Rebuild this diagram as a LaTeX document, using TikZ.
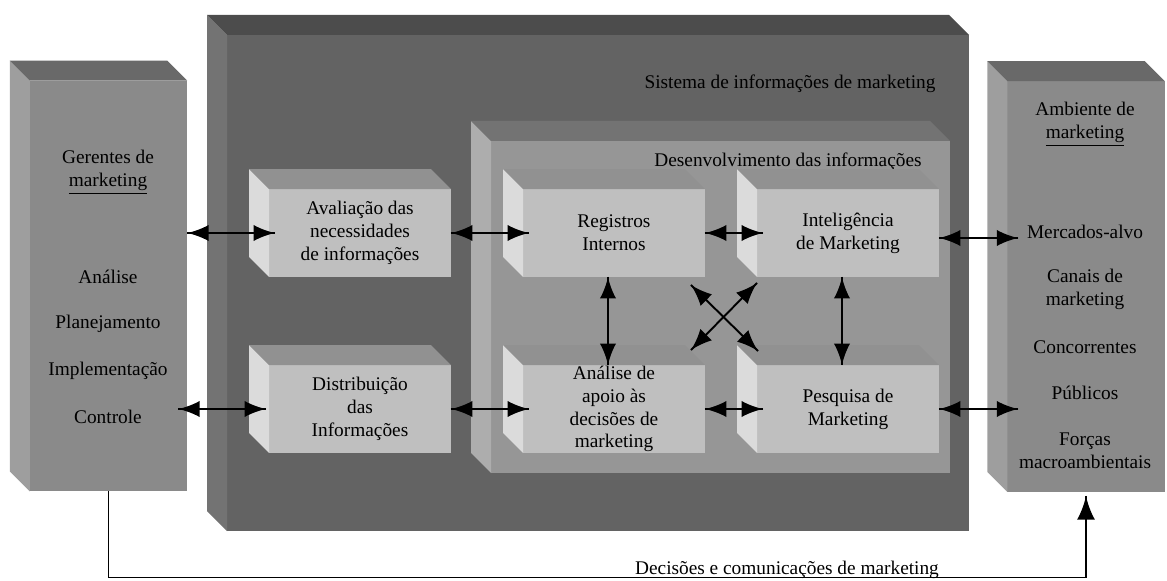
\documentclass[tikz,border=0pt]{standalone}
\usepackage{fontspec}
\setmainfont{Liberation Serif}
\usepackage{tikz}
\usetikzlibrary{arrows}
\usetikzlibrary{decorations.markings}
\usetikzlibrary{positioning}
\definecolor{darkfront}{gray}{0.39}
\definecolor{darktop}{gray}{0.30}
\definecolor{darkside}{gray}{0.45}
\definecolor{outerfront}{gray}{0.54}
\definecolor{outertop}{gray}{0.41}
\definecolor{outerside}{gray}{0.62}
\definecolor{innerfront}{gray}{0.59}
\definecolor{innertop}{gray}{0.45}
\definecolor{innerside}{gray}{0.68}
\definecolor{smallfront}{gray}{0.75}
\definecolor{smalltop}{gray}{0.57}
\definecolor{smallside}{gray}{0.86}
\tikzset{outerbox/.style = {fill = outerfront, minimum width = 3.15cm, minimum height = 8.22cm,
                            inner sep = 0, outer sep = 0}}
\tikzset{smallbox/.style = {fill = smallfront, minimum width = 3.64cm, minimum height = 1.76cm,
                            inner sep = 0, outer sep = 0, align = center}}
\tikzset{txt/.style = {inner sep = 0, align = center}}
\tikzset{dblarrow/.style = {line width = 1.1pt,
                            decoration={markings,
                                        mark=at position 0 with {\arrowreversed[scale=2]{latex}},
                                        mark=at position 1 with {\arrow[scale=2]{latex}}},
                            postaction={decorate}}}
\tikzset{onearrow/.style = {line width = 0.8pt,
                            decoration={markings,
                                        mark=at position 1 with {\arrow[scale=2.6]{latex}}},
                            postaction={decorate}}}

\begin{document}
\begin{tikzpicture}[x = 0.02cm, y = -0.02cm, font = \fontsize{11}{13}\selectfont]
  \useasboundingbox (0, 0) rectangle (1167, 581);
  % sistema de informacoes
  \fill [darkfront] (227, 35) rectangle (969, 531);
  \fill [darkside] (207, 15) -- (227, 35) -- (227, 531) -- (207, 511) -- cycle;
  \fill [darktop] (207, 15) -- (949, 15) -- (969, 35) -- (227, 35) -- cycle;
  \node [txt] (simlabel) at (790, 84) {Sistema de informações de marketing};
  % desenvolvimento
  \fill [innerfront] (491, 141) rectangle (950, 473);
  \fill [innerside] (471, 121) -- (491, 141) -- (491, 473) -- (471, 453) -- cycle;
  \fill [innertop] (471, 121) -- (930, 121) -- (950, 141) -- (491, 141) -- cycle;
  \node [txt] (devlabel) at (788, 162) {Desenvolvimento das informações};
  % gerentes and ambiente
  \node [outerbox] (ger) at (108.5, 286) {};
  \node [outerbox] (amb) at (1086, 286.5) {};
  \foreach \n in {ger, amb} {
    \fill [outerside] (\n.north west) -- ++(-20, -20) -- ([shift={(-20, -20)}]\n.south west)
      -- (\n.south west) -- cycle;
    \fill [outertop] (\n.north west) -- ++(-20, -20) -- ([shift={(-20, -20)}]\n.north east)
      -- (\n.north east) -- cycle;
  }
  \node [txt] (gertitle) at (108, 172) {Gerentes de\\\underline{marketing}};
  \foreach \t/\y in {Análise/277, Planejamento/324, Implementação/371, Controle/417}
    \node [txt] (ger\y) at (108, \y) {\t};
  \node [txt] (ambtitle) at (1085, 124) {Ambiente de\\\underline{marketing}};
  \node [txt] (mercados) at (1085, 232) {Mercados-alvo};
  \node [txt] (canais) at (1085, 289) {Canais de\\marketing};
  \node [txt] (concorrentes) at (1085, 347) {Concorrentes};
  \node [txt] (publicos) at (1085, 393) {Públicos};
  \node [txt] (forcas) at (1085, 451) {Forças\\macroambientais};
  % small boxes
  \node [smallbox] (aval) at (360, 233) {Avaliação das\\necessidades\\de informações};
  \node [smallbox] (dist) at (360, 409) {Distribuição\\das\\Informações};
  \node [smallbox] (reg) at (614, 233) {Registros\\Internos};
  \node [smallbox] (intel) at (848, 233) {Inteligência\\de Marketing};
  \node [smallbox] (anal) at (614, 409) {Análise de\\apoio às\\decisões de\\marketing};
  \node [smallbox] (pesq) at (848, 409) {Pesquisa de\\Marketing};
  \foreach \n in {aval, dist, reg, intel, anal, pesq} {
    \fill [smallside] (\n.north west) -- ++(-20, -20) -- ([shift={(-20, -20)}]\n.south west)
      -- (\n.south west) -- cycle;
    \fill [smalltop] (\n.north west) -- ++(-20, -20) -- ([shift={(-20, -20)}]\n.north east)
      -- (\n.north east) -- cycle;
  }
  % arrows
  \coordinate (intelout) at ([yshift=-0.1cm]intel.east);
  \draw [dblarrow] (ger.east |- aval.west) -- ([xshift=0.12cm]aval.west);
  \draw [dblarrow] ([xshift=-0.18cm]ger.east |- dist.west) -- ([xshift=-0.06cm]dist.west);
  \draw [dblarrow] (aval.east) -- ([xshift=0.12cm]reg.west);
  \draw [dblarrow] (dist.east) -- ([xshift=0.12cm]anal.west);
  \draw [dblarrow] (reg.east) -- ([xshift=0.12cm]intel.west);
  \draw [dblarrow] (anal.east) -- ([xshift=0.12cm]pesq.west);
  \draw [dblarrow] ([xshift=-0.12cm]reg.south) -- ([xshift=-0.12cm]anal.north);
  \draw [dblarrow] ([xshift=-0.12cm]intel.south) -- ([xshift=-0.12cm]pesq.north);
  \draw [dblarrow] ([shift={(-14, 8)}]reg.south east) -- ([shift={(1, -14)}]pesq.north west);
  \draw [dblarrow] ([shift={(0, 6)}]intel.south west) -- ([shift={(-14, -15)}]anal.north east);
  \draw [dblarrow] (intelout) -- ([xshift=0.22cm]amb.west |- intelout);
  \draw [dblarrow] (pesq.east) -- ([xshift=0.22cm]amb.west |- pesq.east);
  % decisoes
  \draw [onearrow] (ger.south) -- ++(0, 86) -| ([yshift=-0.08cm]amb.south);
  \node [anchor=base, inner sep=0] (declabel) at (787, 574) {Decisões e comunicações de marketing};
\end{tikzpicture}
\end{document}
